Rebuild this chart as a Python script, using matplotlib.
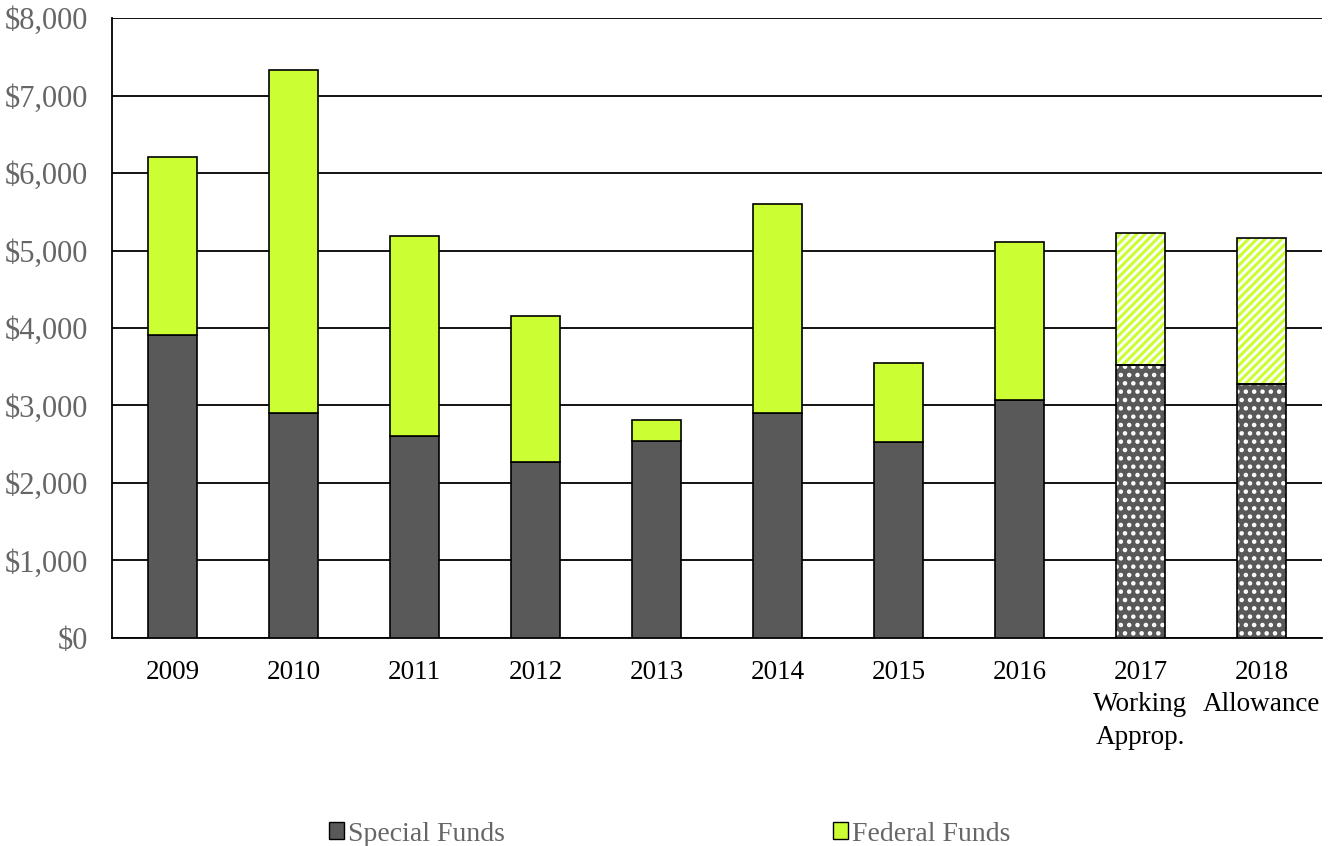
import numpy as np
import matplotlib.pyplot as plt
from matplotlib.patches import Patch
from matplotlib.ticker import FuncFormatter

years = ["2009", "2010", "2011", "2012", "2013", "2014", "2015", "2016",
         "2017\nWorking\nApprop.", "2018\nAllowance"]
special = [3910, 2903, 2606, 2271, 2542, 2903, 2529, 3071, 3523, 3277]
total = [6206, 7329, 5187, 4155, 2813, 5600, 3548, 5110, 5226, 5161]
federal = [t - s for t, s in zip(total, special)]
n_actual = 8  # first 8 are actuals, rest are projected (hatched)

plt.rcParams['font.family'] = ['Liberation Serif', 'DejaVu Serif']
plt.rcParams['hatch.linewidth'] = 2.0

dark = "#595959"
lime = "#ccff33"
grey_txt = "#666666"

fig = plt.figure(figsize=(13.39, 8.46), dpi=100)
ax = fig.add_axes([0.0836, 0.2459, 0.9037, 0.7328])

x = np.arange(len(years))
w = 0.40

# actual years
xa = x[:n_actual]
ax.bar(xa, special[:n_actual], w, color=dark, edgecolor="black", lw=1.2, zorder=3)
ax.bar(xa, federal[:n_actual], w, bottom=special[:n_actual], color=lime,
       edgecolor="black", lw=1.2, zorder=3)

# projected years: white hatch on fill, then black outline
xp = x[n_actual:]
sp = special[n_actual:]
fp = federal[n_actual:]
ax.bar(xp, sp, w, color=dark, edgecolor="white", hatch="..", lw=0, zorder=3)
ax.bar(xp, fp, w, bottom=sp, color=lime, edgecolor="white", hatch="////", lw=0, zorder=3)
ax.bar(xp, sp, w, fill=False, edgecolor="black", lw=1.2, zorder=4)
ax.bar(xp, fp, w, bottom=sp, fill=False, edgecolor="black", lw=1.2, zorder=4)

ax.set_xlim(-0.5, len(years) - 0.5)
ax.set_ylim(0, 8000)
ax.set_yticks(np.arange(0, 8001, 1000))
ax.yaxis.set_major_formatter(FuncFormatter(lambda v, p: f"${v:,.0f}"))
ax.grid(axis="y", color="black", lw=1.3, zorder=0)
ax.set_xticks(x)
ax.set_xticklabels(years, fontsize=19.5, linespacing=1.38)
ax.tick_params(axis="y", labelsize=22, labelcolor=grey_txt, length=0, pad=17)
ax.tick_params(axis="x", length=0, pad=16)
for s in ["top", "right"]:
    ax.spines[s].set_visible(False)
ax.spines["left"].set_linewidth(1.3)
ax.spines["bottom"].set_linewidth(1.3)

handles = [Patch(facecolor=dark, edgecolor="black", label="Special Funds"),
           Patch(facecolor=lime, edgecolor="black", label="Federal Funds")]
leg = fig.legend(handles=handles, loc="center", bbox_to_anchor=(0.5, 0.014), ncol=2,
                 frameon=False, fontsize=20, handlelength=0.55, handleheight=0.55,
                 handletextpad=0.15, columnspacing=11.8)
for t in leg.get_texts():
    t.set_color(grey_txt)

fig.savefig("out.png", dpi=100)
